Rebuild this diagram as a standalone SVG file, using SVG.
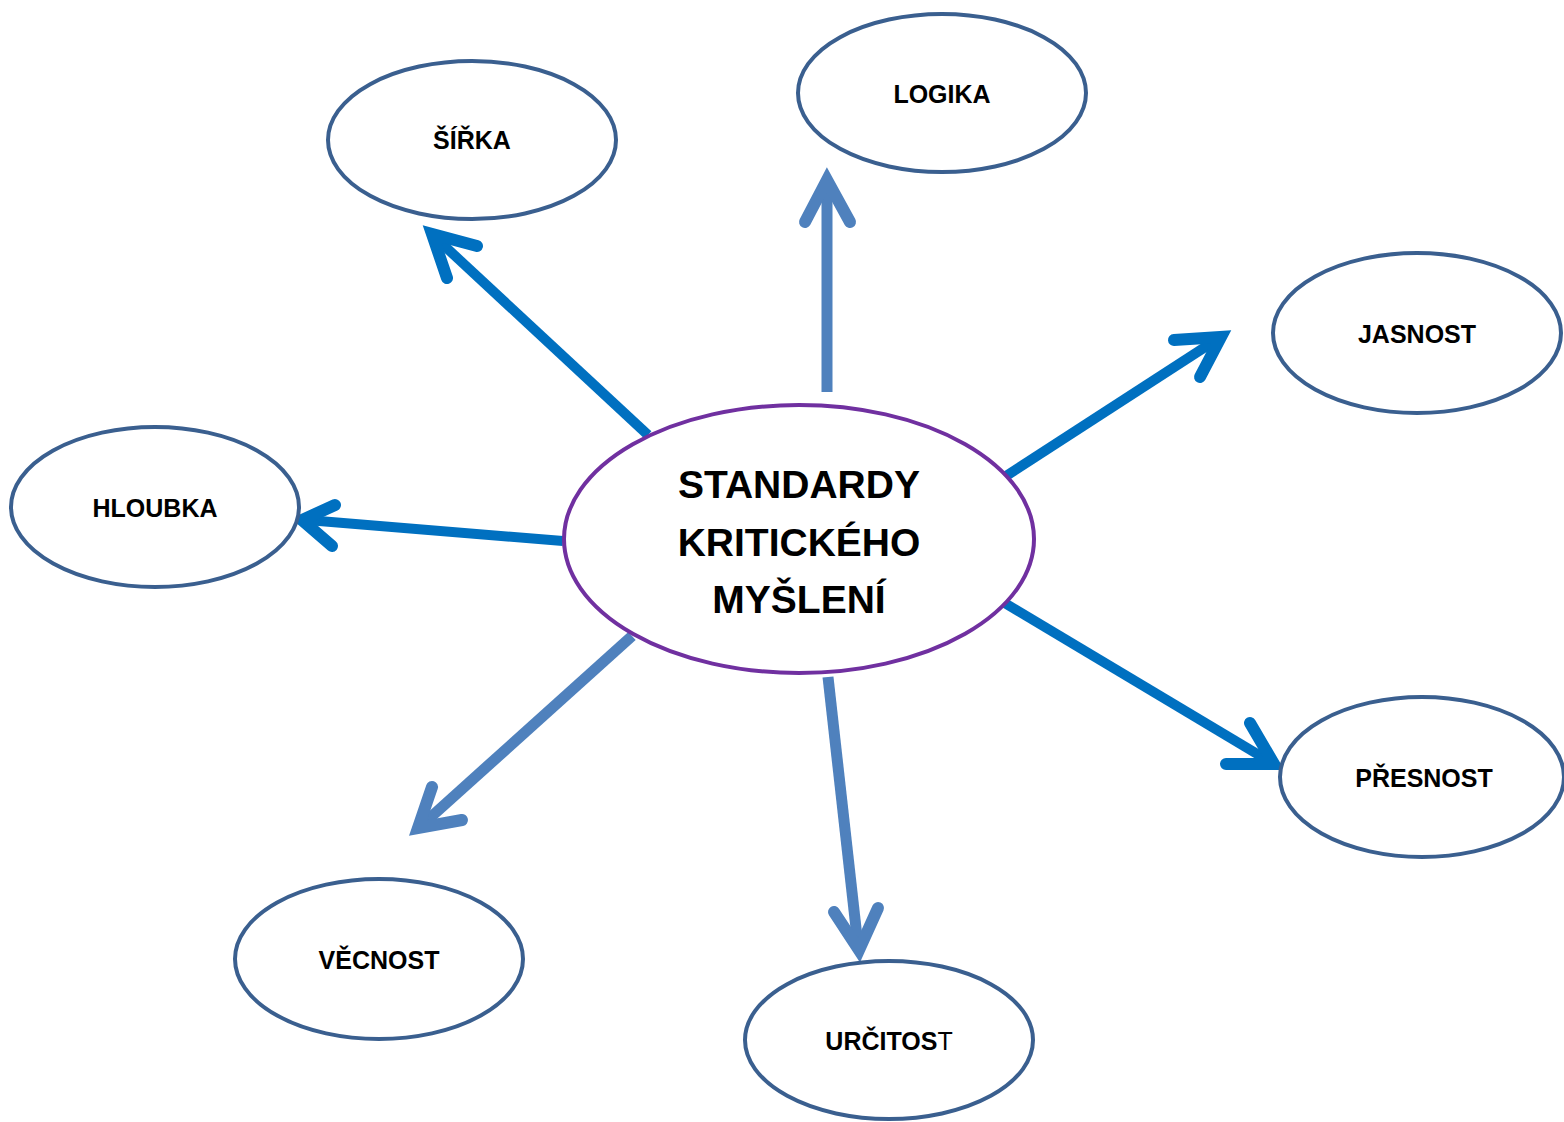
<svg xmlns="http://www.w3.org/2000/svg" width="1564" height="1122" viewBox="0 0 1564 1122">
<style>
.node{fill:#fff;stroke:#3A5F8F;stroke-width:4}
.hub{fill:#fff;stroke:#7030A0;stroke-width:4}
.lbl{font-family:"Liberation Sans",Arial,sans-serif;font-weight:bold;font-size:25px;fill:#000;text-anchor:middle}
.big{font-family:"Liberation Sans",Arial,sans-serif;font-weight:bold;font-size:39px;fill:#000;text-anchor:middle}
.a1{fill:none;stroke:#0070C0;stroke-width:12;stroke-linejoin:miter;stroke-miterlimit:10;stroke-linecap:round}
.a2{fill:none;stroke:#4F81BD;stroke-width:12;stroke-linejoin:miter;stroke-miterlimit:10;stroke-linecap:round}
.sh1{fill:none;stroke:#0070C0;stroke-width:10;stroke-linecap:butt}
.sh2{fill:none;stroke:#4F81BD;stroke-width:11;stroke-linecap:butt}
</style>
<rect width="1564" height="1122" fill="#fff"/>
<g id="connectors">
  <line class="sh1" x1="648" y1="435" x2="438" y2="240"/>
  <path class="a1" d="M477,246 L432,234 L447,278"/>
  <line class="sh2" x1="827" y1="392" x2="827" y2="185"/>
  <path class="a2" d="M805,222 L827,180 L850,222"/>
  <line class="sh1" x1="1003" y1="478" x2="1216" y2="340"/>
  <path class="a1" d="M1174,340 L1221,337 L1200,377"/>
  <line class="sh1" x1="563" y1="541" x2="307" y2="520"/>
  <path class="a1" d="M335,505 L302,520 L332,546"/>
  <line class="sh1" x1="1003" y1="602" x2="1269" y2="761"/>
  <path class="a1" d="M1250,723 L1274,764 L1226,764"/>
  <line class="sh2" x1="632" y1="636" x2="422" y2="825"/>
  <path class="a2" d="M432,787 L418,828 L462,820"/>
  <line class="sh2" x1="828" y1="677" x2="858" y2="946"/>
  <path class="a2" d="M834,912 L859,950 L878,908"/>
</g>
<g id="hub">
  <ellipse class="hub" cx="799" cy="539" rx="235" ry="134"/>
  <text class="big" x="799" y="498">STANDARDY</text>
  <text class="big" x="799" y="556">KRITICKÉHO</text>
  <text class="big" x="799" y="613">MYŠLENÍ</text>
</g>
<g id="sirka">
  <ellipse class="node" cx="472" cy="140" rx="144" ry="79"/>
  <text class="lbl" x="472" y="149">ŠÍŘKA</text>
</g>
<g id="logika">
  <ellipse class="node" cx="942" cy="93" rx="144" ry="79"/>
  <text class="lbl" x="942" y="103">LOGIKA</text>
</g>
<g id="jasnost">
  <ellipse class="node" cx="1417" cy="333" rx="144" ry="80"/>
  <text class="lbl" x="1417" y="343">JASNOST</text>
</g>
<g id="hloubka">
  <ellipse class="node" cx="155" cy="507" rx="144" ry="80"/>
  <text class="lbl" x="155" y="517">HLOUBKA</text>
</g>
<g id="presnost">
  <ellipse class="node" cx="1422" cy="777" rx="142" ry="80"/>
  <text class="lbl" x="1424" y="787">PŘESNOST</text>
</g>
<g id="vecnost">
  <ellipse class="node" cx="379" cy="959" rx="144" ry="80"/>
  <text class="lbl" x="379" y="969">VĚCNOST</text>
</g>
<g id="urcitost">
  <ellipse class="node" cx="889" cy="1040" rx="144" ry="79"/>
  <text class="lbl" x="889" y="1050">URČITOS<tspan font-weight="normal">T</tspan></text>
</g>
</svg>
